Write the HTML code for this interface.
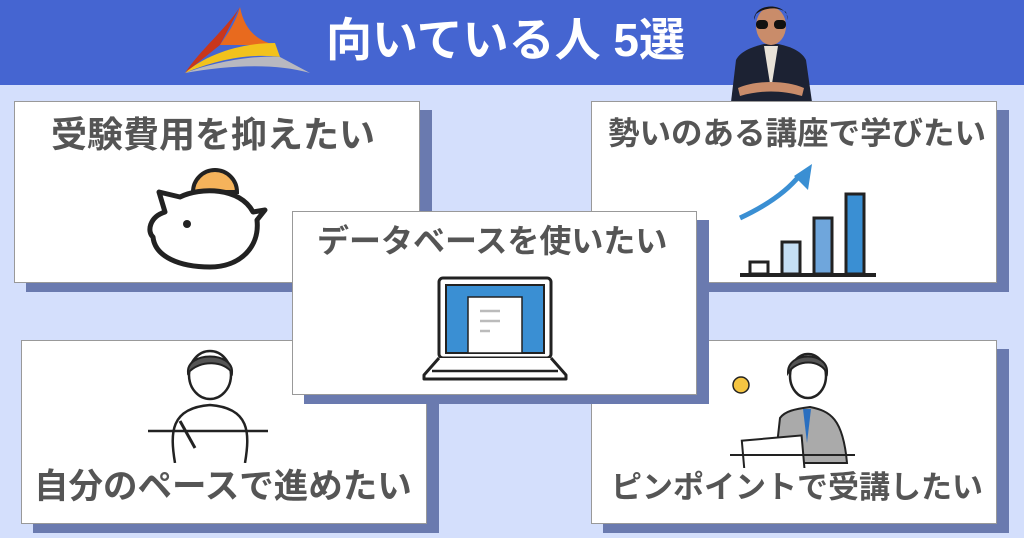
<!DOCTYPE html>
<html><head><meta charset="utf-8"><style>
*{margin:0;padding:0;box-sizing:border-box}
body{width:1024px;height:538px;overflow:hidden;background:#d4dffc;position:relative;font-family:"Liberation Sans","Noto Sans CJK JP",sans-serif}
.hdr{position:absolute;left:0;top:0;width:1024px;height:85px;background:#4565d1}
.title{position:absolute;left:326px;top:12px;color:#fff;font-size:46px;line-height:56px;font-weight:bold;white-space:nowrap}
.box{position:absolute;background:#fff;border:1px solid #999;box-shadow:12px 9px 0 #6a7aaf}
.lbl{position:absolute;color:#555;font-weight:bold;white-space:nowrap;line-height:1.2}
svg{position:absolute}
</style></head><body>
<div class="hdr"></div>
<svg style="left:180px;top:5px" width="135" height="70" viewBox="0 0 135 70">
<path d="M60 2 C45 25 20 45 5 68 L40 40 Z" fill="#c8361c"/>
<path d="M60 2 C55 20 45 32 40 40 L95 40 C80 36 65 28 60 2Z" fill="#e86a1e"/>
<path d="M5 68 C25 50 60 38 95 38 L100 52 C70 48 35 55 5 68Z" fill="#f2c21c"/>
<path d="M5 68 C40 55 80 50 100 52 L130 68 C95 58 50 60 5 68Z" fill="#b8b8c0"/>
</svg>
<div class="title">向いている人 5選</div>
<svg style="left:726px;top:0" width="90" height="102" viewBox="0 0 90 102">
<path d="M5 102 L10 60 C15 50 30 46 38 44 L52 44 C62 46 75 50 80 60 L86 102Z" fill="#1c2233"/>
<path d="M38 46 L45 90 L52 46Z" fill="#e8e2d8"/>
<path d="M12 88 C30 80 60 80 78 88 L76 96 C55 90 35 90 14 96Z" fill="#c98c6a"/>
<ellipse cx="45" cy="26" rx="15" ry="19" fill="#c98c6a"/>
<path d="M28 20 C28 2 62 2 62 20 L60 12 C50 6 38 8 30 14Z" fill="#161616"/>
<rect x="30" y="20" width="12" height="9" rx="4" fill="#111"/><rect x="48" y="20" width="12" height="9" rx="4" fill="#111"/>
</svg>

<div class="box" style="left:14px;top:101px;width:406px;height:182px"></div>
<div class="lbl" style="left:51px;top:113px;font-size:36px">受験費用を抑えたい</div>
<svg style="left:145px;top:162px" width="130" height="115" viewBox="0 0 130 115">
<path d="M48 30 A22 22 0 0 1 92 30 Z" fill="#f5b35b" stroke="#222" stroke-width="4"/>
<path d="M20 50 L14 30 L35 35 C55 25 95 25 108 50 L120 48 L112 58 C115 85 95 105 65 105 C35 105 10 95 8 75 C2 70 4 55 20 50Z" fill="#fff" stroke="#222" stroke-width="5" stroke-linejoin="round"/>
<circle cx="42" cy="62" r="4" fill="#222"/>
</svg>

<div class="box" style="left:591px;top:101px;width:406px;height:182px"></div>
<div class="lbl" style="left:608px;top:115px;font-size:31.5px">勢いのある講座で学びたい</div>
<svg style="left:738px;top:160px" width="140" height="120" viewBox="0 0 140 120">
<path d="M2 58 C30 45 50 30 62 15" stroke="#3a8fd3" stroke-width="5" fill="none"/>
<path d="M74 4 L70 30 L56 16Z" fill="#3a8fd3"/>
<rect x="12" y="102" width="18" height="12" fill="#fff" stroke="#222" stroke-width="3"/>
<rect x="44" y="82" width="18" height="32" fill="#c5dff4" stroke="#222" stroke-width="3"/>
<rect x="76" y="58" width="18" height="56" fill="#6fa6dc" stroke="#222" stroke-width="3"/>
<rect x="108" y="34" width="18" height="80" fill="#3a8fd3" stroke="#222" stroke-width="3"/>
<line x1="2" y1="115" x2="138" y2="115" stroke="#222" stroke-width="4"/>
</svg>

<div class="box" style="left:21px;top:340px;width:406px;height:184px"></div>
<svg style="left:140px;top:343px" width="140" height="120" viewBox="0 0 140 120">
<path d="M35 120 C30 90 30 65 70 62 C110 65 110 90 105 120" fill="#fff" stroke="#222" stroke-width="2.5"/>
<ellipse cx="70" cy="32" rx="21" ry="24" fill="#fff" stroke="#222" stroke-width="2.5"/>
<path d="M48 30 C46 8 94 8 92 30 C85 18 60 16 48 30Z" fill="#555" stroke="#222" stroke-width="2"/>
<line x1="8" y1="88" x2="128" y2="88" stroke="#222" stroke-width="2.5"/>
<path d="M40 78 L55 105" stroke="#222" stroke-width="3"/>
</svg>
<div class="lbl" style="left:34px;top:467px;font-size:34.5px">自分のペースで進めたい</div>

<div class="box" style="left:591px;top:340px;width:406px;height:184px"></div>
<svg style="left:725px;top:343px" width="150" height="125" viewBox="0 0 150 125">
<path d="M50 120 L55 75 C60 68 70 66 85 64 C105 68 118 75 122 120Z" fill="#aaa" stroke="#222" stroke-width="2"/>
<path d="M78 66 L82 100 L86 66Z" fill="#2a6fc0"/>
<ellipse cx="83" cy="33" rx="18" ry="22" fill="#fff" stroke="#222" stroke-width="2.5"/>
<path d="M63 30 C62 8 104 8 102 30 C95 16 72 16 63 30Z" fill="#555" stroke="#222" stroke-width="2"/>
<circle cx="16" cy="42" r="8" fill="#f5c542" stroke="#222" stroke-width="1.5"/>
<rect x="18" y="95" width="60" height="40" fill="#fff" stroke="#222" stroke-width="2" transform="rotate(-5 48 110)"/>
<line x1="5" y1="112" x2="130" y2="112" stroke="#222" stroke-width="2"/>
</svg>
<div class="lbl" style="left:611px;top:469px;font-size:31px">ピンポイントで受講したい</div>

<div class="box" style="left:292px;top:211px;width:405px;height:184px"></div>
<div class="lbl" style="left:317px;top:222px;font-size:32px">データベースを使いたい</div>
<svg style="left:420px;top:275px" width="150" height="108" viewBox="0 0 150 108">
<rect x="19" y="3" width="112" height="80" rx="4" fill="#fff" stroke="#222" stroke-width="3"/>
<rect x="26" y="10" width="98" height="68" fill="#3a8fd3" stroke="#222" stroke-width="2"/>
<rect x="48" y="22" width="54" height="56" fill="#fff" stroke="#222" stroke-width="1.5"/>
<line x1="60" y1="36" x2="80" y2="36" stroke="#bbb" stroke-width="2.5"/>
<line x1="60" y1="46" x2="80" y2="46" stroke="#bbb" stroke-width="2.5"/>
<line x1="60" y1="56" x2="70" y2="56" stroke="#bbb" stroke-width="2.5"/>
<path d="M19 83 L4 100 L4 104 L146 104 L146 100 L131 83" fill="#fff" stroke="#222" stroke-width="3" stroke-linejoin="round"/>
<line x1="12" y1="96" x2="138" y2="96" stroke="#222" stroke-width="2.5"/>
</svg>
</body></html>
